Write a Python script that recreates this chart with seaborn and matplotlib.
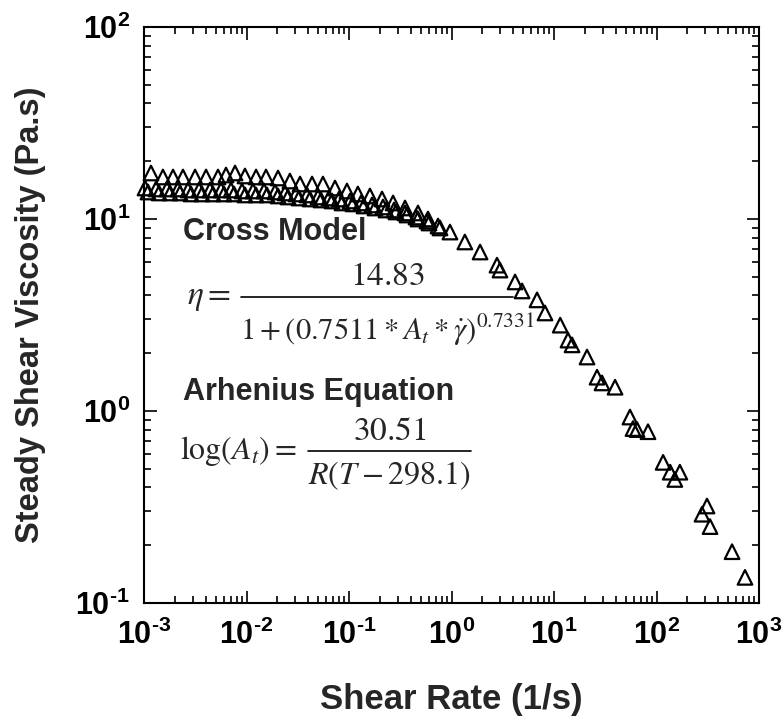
import numpy as np
import pandas as pd
import matplotlib
matplotlib.use("Agg")
import matplotlib.pyplot as plt
import seaborn as sns
from matplotlib.ticker import LogLocator, FuncFormatter, NullFormatter

# shear rate (1/s) and steady shear viscosity (Pa.s)
run_a_rate = [0.00117, 0.00153, 0.00192, 0.00240, 0.00315, 0.00403, 0.00527, 0.00631,
              0.00773, 0.00966, 0.0124, 0.0155, 0.0203, 0.0265, 0.0333, 0.0436, 0.0557,
              0.0730, 0.0955, 0.122, 0.160, 0.210, 0.269, 0.352, 0.471, 0.590,
              0.966, 1.90, 4.17, 8.17, 15.0, 29.4, 64.6, 151, 333, 730]
run_a_visc = [17.36, 16.55, 16.55, 16.55, 16.55, 16.55, 16.55, 16.95,
              17.36, 16.75, 16.55, 16.55, 16.35, 15.77, 15.21, 15.21, 15.21,
              14.50, 13.99, 13.50, 13.18, 12.71, 12.12, 11.41, 10.75, 10.0,
              8.55, 6.73, 4.70, 3.24, 2.21, 1.40, 0.80, 0.44, 0.25, 0.136]

run_b_rate = [0.001023, 0.001310, 0.001676, 0.002147, 0.002687, 0.003440, 0.004405,
              0.005639, 0.007059, 0.009038, 0.01157, 0.01482, 0.01897, 0.02375, 0.03040,
              0.03892, 0.04984, 0.06381, 0.07988, 0.1023, 0.1310, 0.1676, 0.2147, 0.2748,
              0.3518, 0.4505, 0.5768, 0.7385,
              1.35, 2.78, 4.88, 11.5, 21.0, 39.4, 82.6, 169, 311, 546]
run_b_visc = [14.50, 14.33, 14.33, 14.33, 14.16, 14.16, 14.16, 14.16, 14.16, 13.99,
              13.99, 13.99, 13.82, 13.66, 13.50, 13.34, 13.02, 12.86, 12.71, 12.41,
              12.12, 11.83, 11.55, 11.14, 10.75, 10.24, 9.76, 9.19,
              7.59, 5.75, 4.22, 2.80, 1.91, 1.33, 0.78, 0.48, 0.32, 0.185]

run_c_rate = [0.001094, 0.001401, 0.001794, 0.002245, 0.002874, 0.003680, 0.004711,
              0.006031, 0.007549, 0.009667, 0.01238, 0.01585, 0.02029, 0.02540, 0.03252,
              0.04164, 0.05331, 0.06825, 0.08543, 0.1094, 0.1401, 0.1794, 0.2296, 0.2874,
              0.3680, 0.4711, 0.6031, 0.7722,
              2.97, 6.83, 13.7, 26.3, 55.1, 59.0, 116, 136, 278]
run_c_visc = [13.82, 13.66, 13.66, 13.66, 13.50, 13.50, 13.50, 13.50, 13.50, 13.34,
              13.34, 13.34, 13.18, 13.02, 12.86, 12.71, 12.56, 12.41, 12.12, 11.98,
              11.69, 11.41, 11.14, 10.88, 10.49, 10.0, 9.53, 8.98,
              5.42, 3.79, 2.34, 1.50, 0.93, 0.81, 0.54, 0.48, 0.29]

df = pd.concat([
    pd.DataFrame({"rate": run_a_rate, "visc": run_a_visc, "run": "A"}),
    pd.DataFrame({"rate": run_b_rate, "visc": run_b_visc, "run": "B"}),
    pd.DataFrame({"rate": run_c_rate, "visc": run_c_visc, "run": "C"}),
])

sns.set_style("ticks")
plt.rcParams["font.family"] = ["Liberation Sans", "DejaVu Sans"]
plt.rcParams["mathtext.fontset"] = "custom"
plt.rcParams["mathtext.bf"] = "Liberation Sans:bold"
plt.rcParams["mathtext.rm"] = "Liberation Sans:bold"
plt.rcParams["mathtext.it"] = "Liberation Sans:bold:italic"

fig = plt.figure(figsize=(7.83, 7.23), dpi=100)
ax = fig.add_axes([144 / 783, 1 - 603 / 723, 615 / 783, 576 / 723])

sns.scatterplot(data=df, x="rate", y="visc", marker="^", s=110,
                facecolors="none", edgecolor="black", linewidth=1.6,
                legend=False, ax=ax, clip_on=False, zorder=3)

ax.set_xscale("log")
ax.set_yscale("log")
ax.set_xlim(1e-3, 1e3)
ax.set_ylim(1e-1, 1e2)


def decade_label(v, pos):
    p = int(round(np.log10(v)))
    if p < 0:
        return r"$\mathbf{10^{\text{-}%d}}$" % (-p)
    return r"$\mathbf{10^{%d}}$" % p


fmt = FuncFormatter(decade_label)
ax.xaxis.set_major_locator(LogLocator(base=10, numticks=20))
ax.yaxis.set_major_locator(LogLocator(base=10, numticks=20))
ax.xaxis.set_minor_locator(LogLocator(base=10, subs=range(2, 10), numticks=20))
ax.yaxis.set_minor_locator(LogLocator(base=10, subs=range(2, 10), numticks=20))
ax.xaxis.set_major_formatter(fmt)
ax.yaxis.set_major_formatter(fmt)
ax.xaxis.set_minor_formatter(NullFormatter())
ax.yaxis.set_minor_formatter(NullFormatter())

ax.tick_params(which="both", direction="in", top=True, right=True, width=1.2, colors="black")
ax.tick_params(which="major", length=9, labelsize=22)
ax.tick_params(which="minor", length=5)
ax.tick_params(axis="x", which="major", pad=12)
ax.tick_params(axis="y", which="major", pad=10)
for sp in ax.spines.values():
    sp.set_linewidth(1.5)
    sp.set_color("black")

ax.set_xlabel("Shear Rate (1/s)", fontsize=25, fontweight="bold", labelpad=23)
ax.set_ylabel("Steady Shear Viscosity (Pa.s)", fontsize=23.5, fontweight="bold", labelpad=21)

ax.text(0.0634, 0.630, "Cross Model", transform=ax.transAxes, fontsize=22,
        fontweight="bold", va="baseline", ha="left")
ax.text(0.0634, 0.352, "Arhenius Equation", transform=ax.transAxes, fontsize=22,
        fontweight="bold", va="baseline", ha="left")

# Cross model equation, built as a stacked fraction
eq = dict(transform=ax.transAxes, math_fontfamily="stix")
ax.text(0.0699, 0.531, r"$\eta=$", va="center", ha="left", fontsize=24, **eq)
ax.plot([0.158, 0.600], [0.531, 0.531], transform=ax.transAxes, color="black", lw=1.2)
ax.text(0.395, 0.552, r"$14.83$", va="baseline", ha="center", fontsize=24, **eq)
ax.text(0.156, 0.4566, r"$1+(0.7511*A_t*\dot{\gamma})^{0.7331}$", va="baseline", ha="left",
        fontsize=22, **eq)

# Arrhenius shift factor equation
ax.text(0.0585, 0.264, r"$\log(A_t)=$", va="center", ha="left", fontsize=23, **eq)
ax.plot([0.267, 0.532], [0.264, 0.264], transform=ax.transAxes, color="black", lw=1.2)
ax.text(0.399, 0.283, r"$30.51$", va="baseline", ha="center", fontsize=24, **eq)
ax.text(0.267, 0.2066, r"$R(T-298.1)$", va="baseline", ha="left", fontsize=23, **eq)

fig.savefig("out.png", dpi=100)
